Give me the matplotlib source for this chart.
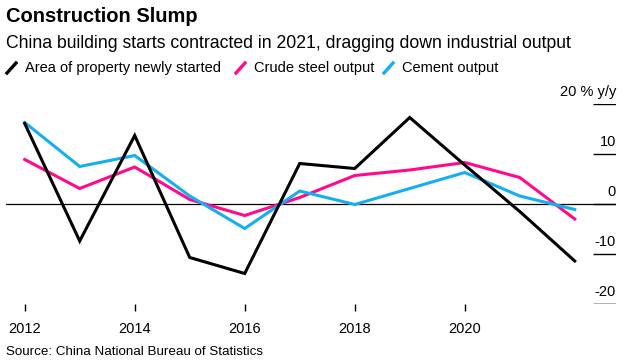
import numpy as np
import matplotlib.pyplot as plt
from matplotlib.lines import Line2D

plt.rcParams['font.family'] = ['Liberation Sans', 'DejaVu Sans']

years = np.arange(2012, 2023)
area_started = [16.1, -7.4, 13.7, -10.7, -13.9, 8.1, 7.1, 17.3, 7.8, -1.5, -11.4]
crude_steel = [8.9, 3.1, 7.4, 0.9, -2.3, 1.3, 5.7, 6.8, 8.3, 5.3, -3.0]
cement = [16.3, 7.5, 9.7, 1.6, -4.9, 2.6, -0.1, 3.1, 6.3, 1.6, -1.1]

series_names = ["Area of property newly started", "Crude steel output", "Cement output"]
colors = ["#000000", "#ff0a8c", "#13aff0"]

xticks = [2012, 2014, 2016, 2018, 2020]
yticks = [20, 10, 0, -10, -20]
ytick_labels = ["20 % y/y", "10", "0", "-10", "-20"]

W, H = 625, 362
fig = plt.figure(figsize=(W / 100, H / 100), dpi=100)

# axes spans pixel x 6..616, y 104..304
ax = fig.add_axes([6 / W, (H - 304) / H, 610 / W, 200 / H])
ax.set_xlim(2011.66, 2022.75)
ax.set_ylim(-20, 20)

ax.axhline(0, color="black", lw=0.9, zorder=1)
for vals, c in zip([crude_steel, cement, area_started], [colors[1], colors[2], colors[0]]):
    ax.plot(years, vals, color=c, lw=2.2, solid_joinstyle="miter", zorder=3)

# right-hand y ticks: short lines with labels above them
for v, lab in zip(yticks, ytick_labels):
    col = "#999999" if v == -20 else "black"
    ax.hlines(v, 2022.33, 2022.75, color=col, lw=1.0 if v != -20 else 1.8, zorder=2)
    ax.text(2022.75, v + 1.0, lab, ha="right", va="bottom", fontsize=10.5)

for s in ax.spines.values():
    s.set_visible(False)
ax.set_yticks([])
ax.set_xticks(xticks)
ax.set_xticklabels([str(x) for x in xticks], fontsize=10.5)
ax.tick_params(axis="x", length=5, width=1, color="black", pad=8)

fig.text(6 / W, 1 - 17 / H, "Construction Slump", fontsize=14.5, fontweight="bold", va="center")
fig.text(6 / W, 1 - 43 / H, "China building starts contracted in 2021, dragging down industrial output",
         fontsize=12.7, va="center")

# legend with slanted line markers
leg_x = [6, 235, 383]
for x0, name, c in zip(leg_x, series_names, colors):
    fig.add_artist(Line2D([(x0 + 1) / W, (x0 + 10) / W], [1 - 73 / H, 1 - 63 / H], color=c, lw=2.4,
                          transform=fig.transFigure))
    fig.text((x0 + 19) / W, 1 - 68 / H, name, fontsize=10.5, va="center")

fig.text(6 / W, 1 - 352 / H, "Source: China National Bureau of Statistics", fontsize=9.6, va="center")

fig.savefig("out.png", dpi=100)
